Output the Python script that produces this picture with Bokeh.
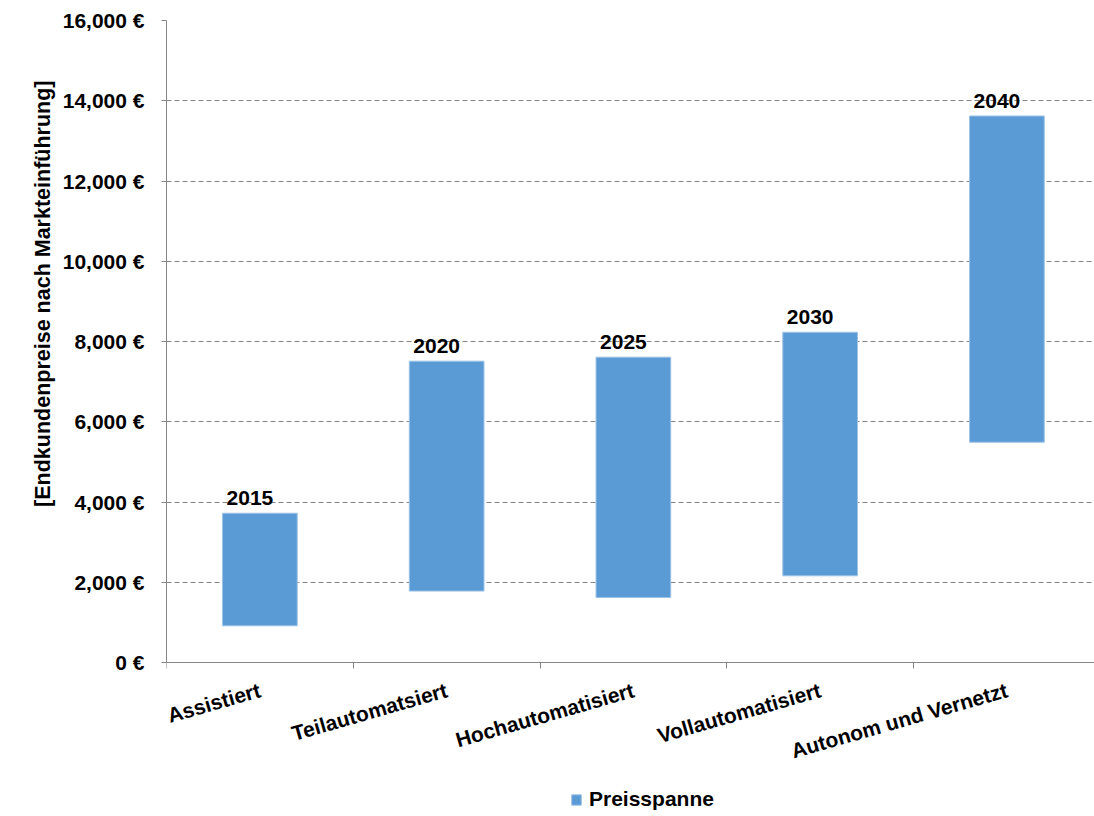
import math
from bokeh.plotting import figure
from bokeh.models import ColumnDataSource, FixedTicker, Legend, LegendItem, Range1d, LinearAxis, Title
from bokeh.core.properties import value
from bokeh.embed import file_html
from bokeh.resources import INLINE

categories = ["Assistiert", "Teilautomatsiert", "Hochautomatisiert", "Vollautomatisiert", "Autonom und Vernetzt"]
years = ["2015", "2020", "2025", "2030", "2040"]
price_low = [915, 1780, 1620, 2160, 5490]
price_high = [3720, 7510, 7610, 8230, 13620]
y_ticks = [0, 2000, 4000, 6000, 8000, 10000, 12000, 14000, 16000]
y_tick_labels = ["0 €", "2,000 €", "4,000 €", "6,000 €", "8,000 €", "10,000 €", "12,000 €", "14,000 €", "16,000 €"]
y_title = "[Endkundenpreise nach Markteinführung]"
legend_label = "Preisspanne"

FONT = "Liberation Sans"
BLUE = "#5B9BD5"
GRAY = "#868686"

# layout geometry (pixels)
W, H = 1094, 812
TOP, ZERO_Y = 20, 662
Y_MAX = 16000
px_per_unit = (ZERO_Y - TOP) / Y_MAX
y_start = -(H - ZERO_Y) / px_per_unit          # frame extends below 0 to hold labels + legend

xs = [i + 0.5 for i in range(len(categories))]
src = ColumnDataSource(dict(x=xs, low=price_low, high=price_high, year=years))

p = figure(width=W, height=H, output_backend="svg", toolbar_location=None,
           x_range=Range1d(0, 4.969), y_range=Range1d(y_start, Y_MAX),
           x_axis_location=None,
           min_border_left=166, min_border_right=0, min_border_top=TOP, min_border_bottom=0)
p.outline_line_color = None
p.background_fill_color = "white"
p.border_fill_color = "white"

bars = p.vbar(x="x", width=0.4, top="high", bottom="low", source=src,
              fill_color=BLUE, line_color="#9DC3E6", line_width=1)

p.text(x="x", y="high", text="year", source=src, text_font=value(FONT), text_font_style="bold",
       text_font_size="21px", text_color="black", text_align="center", text_baseline="alphabetic",
       x_offset=-10, y_offset=-15)

# grid
p.xgrid.visible = False
p.ygrid.ticker = FixedTicker(ticks=y_ticks[1:])
p.ygrid.grid_line_color = GRAY
p.ygrid.grid_line_dash = "5 3"
p.ygrid.grid_line_width = 1

# y axis
ya = p.yaxis[0]
ya.bounds = (0, Y_MAX)
ya.ticker = FixedTicker(ticks=y_ticks)
ya.major_label_overrides = {t: l for t, l in zip(y_ticks, y_tick_labels)}
ya.axis_line_color = GRAY
ya.major_tick_line_color = GRAY
ya.major_tick_out = 5
ya.major_tick_in = 0
ya.minor_tick_line_color = None
ya.major_label_standoff = 17
ya.major_label_text_font = FONT
ya.major_label_text_font_style = "bold"
ya.major_label_text_font_size = "21px"
ya.major_label_text_color = "black"

# empty spacer axis between the tick labels and the title
spacer = LinearAxis(ticker=FixedTicker(ticks=[]), axis_line_color=None,
                    major_tick_line_color=GRAY, major_tick_out=23, major_tick_in=0,
                    minor_tick_line_color=None, major_label_standoff=0)
p.add_layout(spacer, "left")

# y title
p.add_layout(Title(text=y_title, align="right", offset=60, text_font=FONT, text_font_style="bold",
                   text_font_size="21.5px", text_color="black"), "left")

# x axis at y = 0
xa = LinearAxis(fixed_location=0, bounds=(0, 5),
                ticker=FixedTicker(ticks=xs, minor_ticks=list(range(len(categories) + 1))))
xa.major_label_overrides = {x: c for x, c in zip(xs, categories)}
xa.axis_line_color = GRAY
xa.major_tick_line_color = None
xa.major_tick_out = 0
xa.minor_tick_line_color = GRAY
xa.minor_tick_out = 6
xa.minor_tick_in = 0
xa.major_label_orientation = 16 * math.pi / 180
xa.major_label_standoff = 21
xa.major_label_text_font = FONT
xa.major_label_text_font_style = "bold"
xa.major_label_text_font_size = "21px"
xa.major_label_text_color = "black"
p.add_layout(xa, "below")

legend = Legend(items=[LegendItem(label=legend_label, renderers=[bars])],
                location=(404, 1), orientation="horizontal",
                label_text_font=FONT, label_text_font_style="bold", label_text_font_size="21px",
                label_text_color="black",
                glyph_width=12, glyph_height=13, label_standoff=7, padding=0, margin=0, spacing=0,
                border_line_color=None, background_fill_alpha=0)
p.add_layout(legend, "center")

open("out.html", "w").write(file_html(p, INLINE))
